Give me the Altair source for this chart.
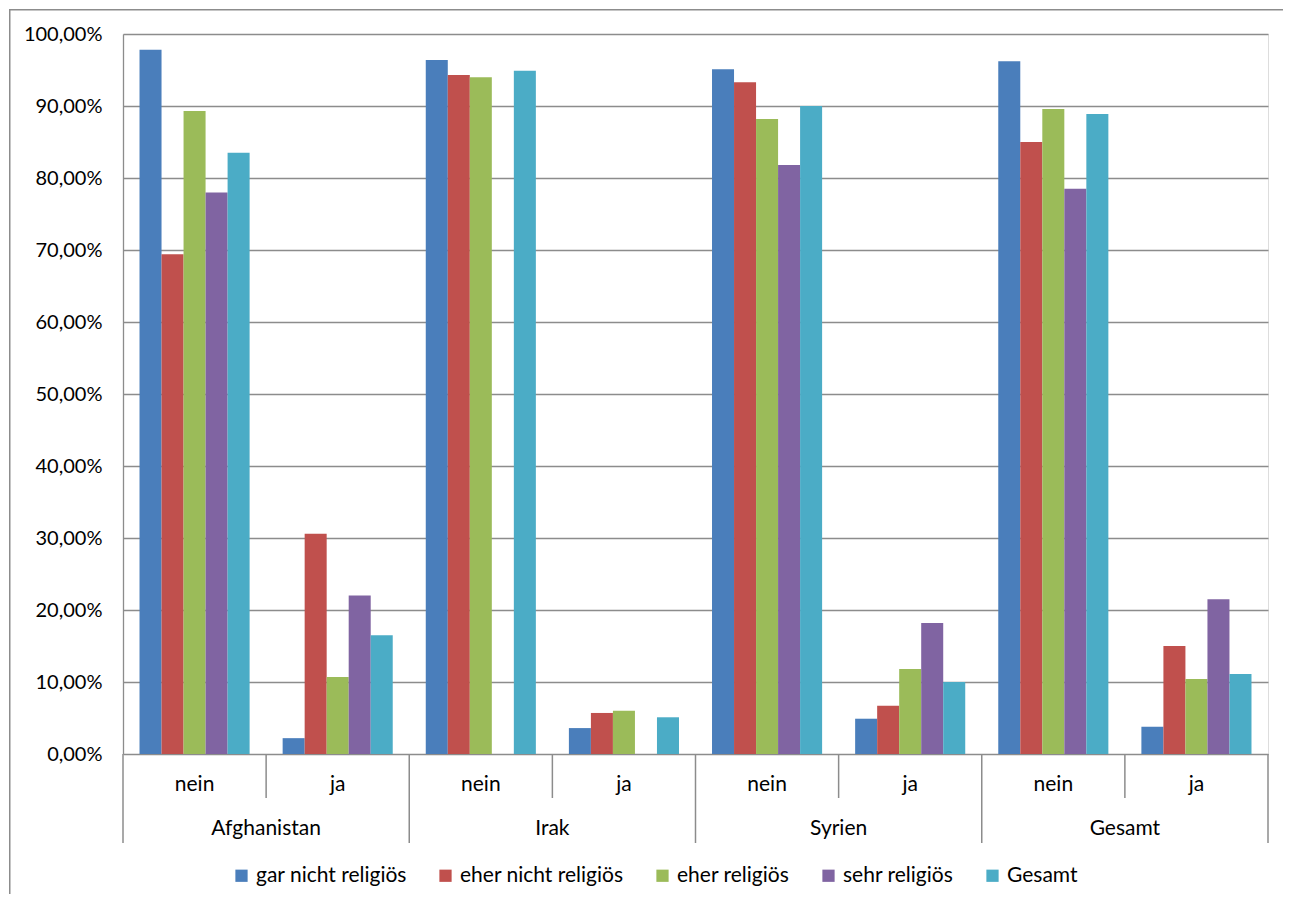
import altair as alt
import pandas as pd

countries = ["Afghanistan", "Irak", "Syrien", "Gesamt"]
answers = ["nein", "ja"]
series = ["gar nicht religiös", "eher nicht religiös", "eher religiös", "sehr religiös", "Gesamt"]
colors = ["#4A7EBB", "#C0504D", "#9BBB59", "#8064A2", "#4BACC6"]

# values in percent, order: Afghanistan nein/ja, Irak nein/ja, Syrien nein/ja, Gesamt nein/ja
gar_nicht = [97.8, 2.2, 96.4, 3.6, 95.1, 4.9, 96.2, 3.8]
eher_nicht = [69.4, 30.6, 94.3, 5.7, 93.3, 6.7, 85.0, 15.0]
eher_rel = [89.3, 10.7, 94.0, 6.0, 88.2, 11.8, 89.6, 10.4]
sehr_rel = [78.0, 22.0, None, None, 81.8, 18.2, 78.5, 21.5]
gesamt = [83.5, 16.5, 94.9, 5.1, 90.0, 10.0, 88.9, 11.1]

series_values = [gar_nicht, eher_nicht, eher_rel, sehr_rel, gesamt]
cats = [f"{c}|{a}" for c in countries for a in answers]

rows = []
for s, vals in zip(series, series_values):
    for cat, v in zip(cats, vals):
        if v is not None:
            rows.append({"cat": cat, "series": s, "value": v})
bars_df = pd.DataFrame(rows)

axis_df = pd.DataFrame([
    {"cat": f"{c}|{a}", "country": c, "answer": a, "last": (c == countries[-1] and a == answers[-1])}
    for c in countries for a in answers
])

FONT = "Lato"
W, H = 1145, 720
PAD_L, PAD_T, PAD_R, PAD_B = 115, 26, 15, 140
GRAY = "#8C8C8C"

xscale = alt.Scale(domain=cats, paddingInner=0, paddingOuter=0)
x_enc = alt.X("cat:N", scale=xscale, axis=None, sort=cats)

bars = alt.Chart(bars_df).mark_bar().encode(
    x=x_enc,
    xOffset=alt.XOffset("series:N", sort=series,
                        scale=alt.Scale(domain=series, paddingInner=0, paddingOuter=0.75)),
    y=alt.Y("value:Q", scale=alt.Scale(domain=[0, 100]),
            axis=alt.Axis(values=list(range(0, 101, 10)), title=None, grid=True,
                          gridColor=GRAY, gridWidth=1.3, domainColor=GRAY, domainWidth=1.3,
                          ticks=False, labelPadding=21, labelFontSize=20, labelFont=FONT,
                          labelColor="#000000",
                          labelExpr="replace(format(datum.value, '.2f'), '.', ',') + '%'")),
    color=alt.Color("series:N", sort=series,
                    scale=alt.Scale(domain=series, range=colors),
                    legend=alt.Legend(orient="none", legendX=108, legendY=831,
                                      direction="horizontal", title=None,
                                      symbolType="square", symbolSize=150,
                                      symbolStrokeWidth=0, labelFontSize=21,
                                      labelFont=FONT, labelColor="#000000",
                                      labelLimit=400,
                                      columnPadding=28, labelOffset=4)),
)

short_sep = alt.Chart(axis_df).transform_filter("datum.answer == 'ja'").mark_rule(
    color=GRAY, strokeWidth=1.5).encode(
    x=alt.X("cat:N", scale=xscale, axis=None, sort=cats, bandPosition=0),
    y=alt.value(H), y2=alt.value(H + 44))

long_sep = alt.Chart(axis_df).transform_filter("datum.answer == 'nein'").mark_rule(
    color=GRAY, strokeWidth=1.5).encode(
    x=alt.X("cat:N", scale=xscale, axis=None, sort=cats, bandPosition=0),
    y=alt.value(H), y2=alt.value(H + 89))

end_sep = alt.Chart(axis_df).transform_filter("datum.last").mark_rule(
    color=GRAY, strokeWidth=1.5).encode(
    x=alt.X("cat:N", scale=xscale, axis=None, sort=cats, bandPosition=1),
    y=alt.value(H), y2=alt.value(H + 89))

answer_labels = alt.Chart(axis_df).mark_text(
    font=FONT, fontSize=21, color="#000000", baseline="middle", align="center").encode(
    x=alt.X("cat:N", scale=xscale, axis=None, sort=cats, bandPosition=0.5),
    y=alt.value(H + 31), text="answer:N")

country_labels = alt.Chart(axis_df).transform_filter("datum.answer == 'ja'").mark_text(
    font=FONT, fontSize=21, color="#000000", baseline="middle", align="center").encode(
    x=alt.X("cat:N", scale=xscale, axis=None, sort=cats, bandPosition=0),
    y=alt.value(H + 75), text="country:N")

# chart frame (left and top edges) as thin filled strips inside the drawing surface
frame_top = alt.Chart(axis_df).transform_filter("datum.last").mark_rect(
    color=GRAY, strokeWidth=0).encode(
    x=alt.value(-(PAD_L - 1)), x2=alt.value(W + PAD_R),
    y=alt.value(-(PAD_T - 1)), y2=alt.value(-(PAD_T - 2.5)))

frame_left = alt.Chart(axis_df).transform_filter("datum.last").mark_rect(
    color=GRAY, strokeWidth=0).encode(
    x=alt.value(-(PAD_L - 1)), x2=alt.value(-(PAD_L - 2.5)),
    y=alt.value(-(PAD_T - 1)), y2=alt.value(H + PAD_B))

chart = alt.layer(frame_top, frame_left, bars, short_sep, long_sep, end_sep,
                  answer_labels, country_labels).properties(
    width=W, height=H,
    autosize=alt.AutoSizeParams(type="none"),
    padding={"left": PAD_L, "top": PAD_T, "right": PAD_R, "bottom": PAD_B},
).configure_view(stroke=None).configure(font=FONT)

chart.save("out.html", embed_options={"renderer": "svg", "actions": False})
